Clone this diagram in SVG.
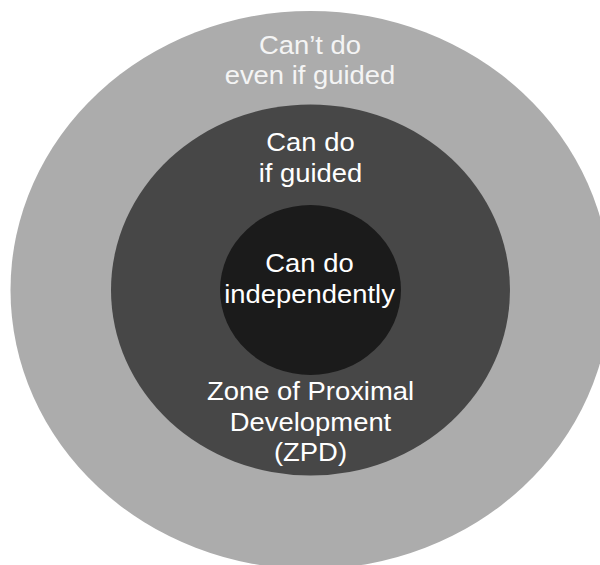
<svg xmlns="http://www.w3.org/2000/svg" width="600" height="565" viewBox="0 0 600 565">
  <style>
    .lbl { font-family: "Liberation Sans", Arial, sans-serif; font-size: 25.5px; fill: #ffffff; text-anchor: middle; }
    .outer-lbl { fill: #f4f4f4; }
  </style>
  <rect width="600" height="565" fill="#ffffff"/>
  <g id="cant-do">
    <ellipse cx="310.5" cy="290" rx="300" ry="279" fill="#acacac"/>
    <g transform="translate(310,0) scale(1.075,1)">
      <text class="lbl outer-lbl" x="0" y="54">Can’t do</text>
      <text class="lbl outer-lbl" x="0" y="84">even if guided</text>
    </g>
  </g>
  <g id="zpd">
    <ellipse cx="310.5" cy="290" rx="199.5" ry="185.5" fill="#474747"/>
    <g transform="translate(310.5,0) scale(1.075,1)">
      <text class="lbl" x="0" y="151">Can do</text>
      <text class="lbl" x="0" y="182">if guided</text>
      <text class="lbl" x="0" y="400">Zone of Proximal</text>
      <text class="lbl" x="0" y="431">Development</text>
      <text class="lbl" x="0" y="461">(ZPD)</text>
    </g>
  </g>
  <g id="independent">
    <ellipse cx="310.5" cy="290" rx="90.5" ry="85" fill="#1b1b1b"/>
    <g transform="translate(309.5,0) scale(1.075,1)">
      <text class="lbl" x="0" y="272">Can do</text>
      <text class="lbl" x="0" y="303">independently</text>
    </g>
  </g>
</svg>
